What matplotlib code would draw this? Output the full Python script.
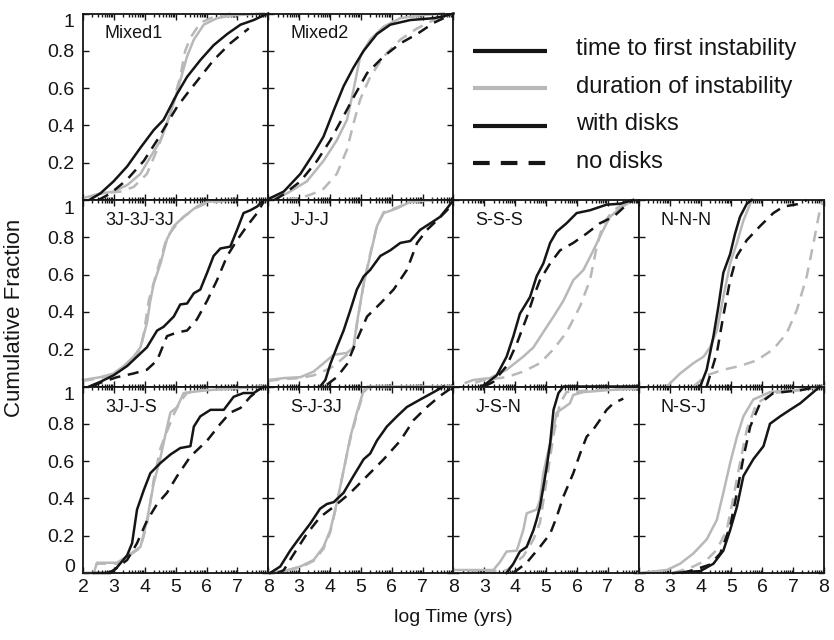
import matplotlib
matplotlib.use("Agg")
import matplotlib.pyplot as plt
from matplotlib.transforms import ScaledTranslation
import numpy as np

plt.rcParams["font.family"] = ["Liberation Sans", "DejaVu Sans"]
plt.rcParams["lines.scale_dashes"] = False

# ---------------------------------------------------------------------------
# Cumulative distributions: (log time values, cumulative fraction)
#   tf  = time to first instability, dur = duration of instability
#   disk / nodisk = with / without gas disks
# ---------------------------------------------------------------------------
mixed1_tf_disk = ([2.2, 2.56, 2.99, 3.43, 3.86, 4.29, 4.61, 4.83, 5.05, 5.37, 5.80, 6.23, 6.67, 7.10, 7.53, 7.85, 8.0],
                  [0.0, 0.035, 0.10, 0.18, 0.28, 0.375, 0.43, 0.50, 0.57, 0.66, 0.75, 0.83, 0.89, 0.94, 0.965, 0.99, 1.0])
mixed1_tf_nodisk = ([2.5, 2.89, 3.43, 3.97, 4.40, 4.72, 5.05, 5.37, 5.80, 6.23, 6.77, 7.37],
                    [0.0, 0.035, 0.11, 0.21, 0.32, 0.41, 0.50, 0.57, 0.66, 0.75, 0.84, 0.92])
mixed1_dur_disk = ([2.0, 2.56, 2.99, 3.43, 3.86, 4.18, 4.51, 4.72, 4.94, 5.15, 5.37, 5.59, 5.91, 6.34, 6.88, 7.85],
                   [0.01, 0.035, 0.045, 0.08, 0.14, 0.23, 0.32, 0.41, 0.52, 0.64, 0.77, 0.86, 0.94, 0.975, 0.99, 1.0])
mixed1_dur_nodisk = ([2.3, 2.56, 3.21, 3.64, 4.07, 4.40, 4.72, 4.94, 5.15, 5.31, 5.48, 5.80, 6.34, 6.88],
                     [0.02, 0.035, 0.045, 0.07, 0.14, 0.27, 0.41, 0.54, 0.66, 0.80, 0.87, 0.95, 0.99, 1.0])

mixed2_tf_disk = ([2.06, 2.50, 3.04, 3.47, 3.79, 4.12, 4.44, 4.76, 5.09, 5.52, 5.95, 6.60, 7.36, 7.68, 8.0],
                  [0.01, 0.045, 0.14, 0.25, 0.34, 0.48, 0.61, 0.71, 0.80, 0.89, 0.94, 0.965, 0.975, 0.985, 1.0])
mixed2_tf_nodisk = ([2.2, 2.50, 3.04, 3.58, 4.01, 4.44, 4.76, 5.20, 5.74, 6.28, 6.82, 7.36, 7.68],
                    [0.0, 0.03, 0.10, 0.21, 0.32, 0.45, 0.55, 0.68, 0.77, 0.84, 0.89, 0.95, 0.975])
mixed2_dur_disk = ([2.06, 2.60, 3.25, 3.79, 4.22, 4.55, 4.76, 4.98, 5.30, 5.74, 6.28, 6.92, 7.68],
                   [0.005, 0.035, 0.10, 0.21, 0.32, 0.43, 0.59, 0.77, 0.86, 0.93, 0.975, 0.99, 1.0])
mixed2_dur_nodisk = ([2.6, 3.04, 3.47, 3.79, 4.22, 4.55, 4.76, 4.98, 5.30, 5.74, 6.28, 6.82, 7.36, 8.0],
                     [0.0, 0.01, 0.035, 0.06, 0.14, 0.27, 0.41, 0.54, 0.66, 0.77, 0.86, 0.92, 0.965, 1.0])

jjj3_tf_disk = ([2.2, 2.56, 2.99, 3.43, 3.75, 4.07, 4.40, 4.61, 4.94, 5.15, 5.37, 5.59, 5.80, 6.02, 6.23, 6.45, 6.77, 6.99, 7.20, 7.42, 7.64, 7.85],
                [0.0, 0.025, 0.06, 0.11, 0.16, 0.21, 0.30, 0.32, 0.375, 0.44, 0.445, 0.50, 0.52, 0.61, 0.70, 0.74, 0.75, 0.84, 0.93, 0.945, 0.965, 1.0])
jjj3_tf_nodisk = ([2.3, 2.56, 3.10, 3.64, 4.07, 4.40, 4.72, 5.05, 5.37, 5.69, 6.02, 6.34, 6.67, 6.99, 7.31, 7.64, 7.85],
                  [0.0, 0.02, 0.05, 0.07, 0.09, 0.14, 0.27, 0.29, 0.30, 0.36, 0.46, 0.57, 0.70, 0.785, 0.86, 0.93, 0.99])
jjj3_dur_disk = ([2.0, 2.56, 2.99, 3.32, 3.64, 3.86, 4.07, 4.18, 4.29, 4.51, 4.72, 4.94, 5.26, 5.69, 6.02, 6.88],
                 [0.035, 0.05, 0.07, 0.11, 0.16, 0.21, 0.34, 0.46, 0.55, 0.66, 0.79, 0.86, 0.91, 0.965, 0.99, 1.0])
jjj3_dur_nodisk = ([2.0, 2.56, 2.99, 3.32, 3.64, 3.86, 3.97, 4.13, 4.40, 4.72, 4.94, 5.26, 5.69, 6.02, 6.88],
                   [0.03, 0.045, 0.065, 0.10, 0.15, 0.20, 0.285, 0.46, 0.62, 0.80, 0.85, 0.91, 0.96, 0.985, 1.0])

jjj_tf_disk = ([3.68, 3.85, 4.01, 4.22, 4.44, 4.66, 4.87, 5.09, 5.30, 5.63, 5.95, 6.28, 6.60, 6.92, 7.25, 7.57, 7.79, 8.0],
               [0.0, 0.035, 0.12, 0.21, 0.30, 0.41, 0.52, 0.59, 0.625, 0.70, 0.73, 0.77, 0.78, 0.84, 0.875, 0.91, 0.955, 1.0])
jjj_tf_nodisk = ([3.90, 4.22, 4.55, 4.87, 5.20, 5.63, 6.06, 6.49, 6.82, 7.14, 7.46, 7.79, 8.0],
                 [0.01, 0.05, 0.12, 0.25, 0.375, 0.445, 0.52, 0.625, 0.77, 0.84, 0.89, 0.945, 0.99])
jjj_dur_disk = ([2.0, 2.50, 3.04, 3.47, 3.90, 4.12, 4.55, 4.76, 4.87, 5.09, 5.30, 5.52, 5.74, 6.17, 6.60, 7.36],
                [0.035, 0.045, 0.05, 0.08, 0.14, 0.17, 0.18, 0.21, 0.34, 0.55, 0.70, 0.86, 0.93, 0.955, 0.99, 1.0])
jjj_dur_nodisk = ([2.0, 2.50, 3.04, 3.47, 3.90, 4.12, 4.55, 4.76, 4.87, 5.09, 5.30, 5.52, 5.74, 6.17, 6.60, 7.36],
                  [0.03, 0.04, 0.045, 0.06, 0.09, 0.11, 0.17, 0.20, 0.33, 0.55, 0.71, 0.86, 0.935, 0.96, 0.99, 1.0])

sss_tf_disk = ([2.9, 3.07, 3.40, 3.72, 3.94, 4.15, 4.48, 4.69, 4.91, 5.13, 5.34, 5.66, 5.99, 6.42, 6.96, 7.39, 7.82],
               [0.0, 0.017, 0.06, 0.16, 0.27, 0.39, 0.48, 0.59, 0.66, 0.77, 0.83, 0.875, 0.93, 0.945, 0.975, 0.98, 1.0])
sss_tf_nodisk = ([3.0, 3.29, 3.72, 4.05, 4.37, 4.59, 4.80, 5.13, 5.45, 5.88, 6.31, 6.74, 7.18, 7.61, 7.82],
                 [0.0, 0.025, 0.11, 0.23, 0.37, 0.48, 0.57, 0.66, 0.73, 0.77, 0.82, 0.875, 0.91, 0.975, 1.0])
sss_dur_disk = ([2.4, 2.64, 3.18, 3.72, 4.26, 4.59, 5.02, 5.24, 5.56, 5.88, 6.21, 6.53, 6.85, 7.07, 7.39, 7.82],
                [0.02, 0.035, 0.045, 0.09, 0.16, 0.21, 0.32, 0.375, 0.46, 0.57, 0.625, 0.73, 0.84, 0.91, 0.955, 1.0])
sss_dur_nodisk = ([2.7, 2.97, 3.72, 4.26, 4.80, 5.24, 5.66, 6.10, 6.42, 6.64, 6.85, 7.18, 7.61, 7.82],
                  [0.02, 0.035, 0.05, 0.08, 0.125, 0.20, 0.29, 0.43, 0.57, 0.75, 0.875, 0.945, 0.99, 1.0])

nnn_tf_disk = ([3.99, 4.20, 4.42, 4.58, 4.74, 4.96, 5.12, 5.28, 5.50, 5.66],
               [0.0, 0.09, 0.27, 0.43, 0.61, 0.71, 0.82, 0.91, 0.98, 1.0])
nnn_tf_nodisk = ([4.20, 4.53, 4.74, 4.96, 5.18, 5.50, 5.93, 6.36, 6.69, 7.23, 7.44],
                 [0.0, 0.18, 0.38, 0.57, 0.70, 0.785, 0.86, 0.93, 0.965, 0.98, 1.0])
nnn_dur_disk = ([2.91, 3.34, 3.77, 4.10, 4.31, 4.53, 4.74, 4.96, 5.18, 5.39, 5.66],
                [0.0, 0.07, 0.125, 0.16, 0.21, 0.30, 0.48, 0.66, 0.77, 0.89, 1.0])
nnn_dur_nodisk = ([3.77, 4.20, 4.74, 5.28, 5.82, 6.36, 6.79, 7.12, 7.44, 7.66, 7.87, 7.98],
                  [0.0, 0.06, 0.09, 0.11, 0.14, 0.20, 0.285, 0.41, 0.59, 0.77, 0.95, 1.0])

jjs3_tf_disk = ([2.35, 2.89, 3.10, 3.43, 3.59, 3.75, 3.97, 4.18, 4.51, 4.83, 5.15, 5.48, 5.59, 5.80, 6.13, 6.56, 6.88, 7.20, 7.53, 7.85],
                [0.0, 0.0, 0.03, 0.095, 0.16, 0.34, 0.445, 0.535, 0.59, 0.635, 0.67, 0.68, 0.785, 0.84, 0.875, 0.875, 0.945, 0.965, 0.965, 1.0])
jjs3_tf_nodisk = ([2.8, 3.0, 3.43, 3.75, 4.07, 4.40, 4.72, 5.05, 5.48, 6.02, 6.45, 6.77, 7.10, 7.42, 7.75],
                  [0.0, 0.015, 0.07, 0.16, 0.28, 0.37, 0.43, 0.52, 0.625, 0.71, 0.80, 0.86, 0.885, 0.945, 0.99])
jjs3_dur_disk = ([2.0, 2.35, 2.45, 3.10, 3.43, 3.64, 3.86, 4.07, 4.29, 4.51, 4.72, 4.83, 5.05, 5.26, 5.48, 6.02, 6.88, 7.85],
                 [0.0, 0.0, 0.055, 0.055, 0.09, 0.115, 0.14, 0.28, 0.48, 0.62, 0.78, 0.86, 0.89, 0.965, 0.97, 0.98, 0.99, 1.0])
jjs3_dur_nodisk = ([2.0, 2.35, 2.45, 3.10, 3.43, 3.64, 3.86, 4.07, 4.29, 4.51, 4.72, 4.94, 5.15, 5.37, 5.80, 6.88, 7.85],
                   [0.0, 0.0, 0.05, 0.05, 0.085, 0.11, 0.135, 0.26, 0.50, 0.67, 0.76, 0.85, 0.92, 0.965, 0.98, 0.99, 1.0])

sjj3_tf_disk = ([2.06, 2.39, 2.71, 3.04, 3.36, 3.68, 3.90, 4.12, 4.44, 4.76, 5.09, 5.30, 5.52, 5.84, 6.17, 6.49, 6.92, 7.36, 7.68],
                [0.0, 0.035, 0.12, 0.195, 0.265, 0.345, 0.37, 0.38, 0.43, 0.52, 0.61, 0.64, 0.71, 0.785, 0.84, 0.89, 0.93, 0.97, 1.0])
sjj3_tf_nodisk = ([2.3, 2.50, 2.82, 3.25, 3.68, 4.12, 4.66, 5.20, 5.74, 6.28, 6.71, 7.14, 7.57, 8.0],
                  [0.0, 0.015, 0.10, 0.21, 0.30, 0.355, 0.43, 0.52, 0.61, 0.71, 0.82, 0.89, 0.95, 1.0])
sjj3_dur_disk = ([2.0, 2.50, 3.04, 3.47, 3.79, 4.01, 4.22, 4.44, 4.66, 4.87, 5.09, 5.20, 8.0],
                 [0.0, 0.01, 0.035, 0.07, 0.14, 0.23, 0.375, 0.55, 0.73, 0.86, 0.98, 1.0, 1.0])
sjj3_dur_nodisk = ([2.0, 2.50, 3.04, 3.47, 3.79, 4.01, 4.22, 4.44, 4.66, 4.87, 5.09, 5.25, 8.0],
                   [0.0, 0.01, 0.03, 0.065, 0.13, 0.22, 0.37, 0.55, 0.72, 0.85, 0.97, 0.995, 1.0])

jsn_tf_disk = ([3.72, 3.94, 4.15, 4.37, 4.59, 4.69, 4.80, 4.91, 5.02, 5.13, 5.24, 5.40, 5.56, 8.0],
               [0.0, 0.05, 0.115, 0.14, 0.23, 0.285, 0.355, 0.46, 0.57, 0.695, 0.875, 0.965, 1.0, 1.0])
jsn_tf_nodisk = ([3.94, 4.37, 4.80, 5.13, 5.34, 5.56, 5.88, 6.10, 6.31, 6.53, 6.74, 6.96, 7.18, 7.50],
                 [0.0, 0.055, 0.14, 0.21, 0.30, 0.41, 0.535, 0.64, 0.73, 0.77, 0.82, 0.875, 0.91, 0.935])
jsn_dur_disk = ([2.0, 3.29, 3.51, 3.72, 4.05, 4.26, 4.37, 4.69, 4.80, 4.91, 5.02, 5.24, 5.34, 5.56, 5.77, 5.88, 6.21, 6.96, 7.93],
                [0.016, 0.016, 0.06, 0.115, 0.12, 0.23, 0.32, 0.34, 0.39, 0.535, 0.62, 0.77, 0.86, 0.885, 0.91, 0.955, 0.97, 0.98, 0.99])
jsn_dur_nodisk = ([2.43, 3.72, 4.26, 4.59, 4.80, 5.02, 5.24, 5.45, 5.66, 6.42, 7.93],
                  [0.0, 0.015, 0.09, 0.18, 0.27, 0.50, 0.74, 0.91, 0.97, 0.98, 0.99])

nsj_tf_disk = ([3.12, 3.99, 4.42, 4.74, 4.96, 5.18, 5.39, 5.71, 6.04, 6.25, 6.58, 6.90, 7.23, 7.55, 7.87],
               [0.0, 0.01, 0.05, 0.12, 0.23, 0.355, 0.52, 0.61, 0.68, 0.80, 0.84, 0.875, 0.91, 0.955, 1.0])
nsj_tf_nodisk = ([3.4, 3.77, 4.31, 4.64, 4.96, 5.18, 5.39, 5.61, 5.93, 6.36, 7.23, 7.87],
                 [0.0, 0.016, 0.045, 0.105, 0.25, 0.43, 0.62, 0.785, 0.91, 0.965, 0.98, 1.0])
nsj_dur_disk = ([2.0, 2.91, 3.34, 3.77, 4.20, 4.53, 4.74, 4.96, 5.18, 5.39, 5.71, 6.25, 7.01, 7.98],
                [0.0, 0.016, 0.05, 0.105, 0.18, 0.285, 0.43, 0.59, 0.73, 0.84, 0.93, 0.97, 0.98, 1.0])
nsj_dur_nodisk = ([3.12, 3.77, 4.20, 4.53, 4.85, 5.07, 5.28, 5.50, 5.82, 6.36, 7.23, 7.87],
                  [0.0, 0.035, 0.07, 0.125, 0.23, 0.41, 0.59, 0.77, 0.91, 0.965, 0.98, 1.0])

panel_names = ["Mixed1", "Mixed2", "3J-3J-3J", "J-J-J", "S-S-S", "N-N-N",
               "3J-J-S", "S-J-3J", "J-S-N", "N-S-J"]
panel_cells = [(0, 0), (0, 1), (1, 0), (1, 1), (1, 2), (1, 3),
               (2, 0), (2, 1), (2, 2), (2, 3)]
panel_curves = [
    (mixed1_tf_disk, mixed1_tf_nodisk, mixed1_dur_disk, mixed1_dur_nodisk),
    (mixed2_tf_disk, mixed2_tf_nodisk, mixed2_dur_disk, mixed2_dur_nodisk),
    (jjj3_tf_disk, jjj3_tf_nodisk, jjj3_dur_disk, jjj3_dur_nodisk),
    (jjj_tf_disk, jjj_tf_nodisk, jjj_dur_disk, jjj_dur_nodisk),
    (sss_tf_disk, sss_tf_nodisk, sss_dur_disk, sss_dur_nodisk),
    (nnn_tf_disk, nnn_tf_nodisk, nnn_dur_disk, nnn_dur_nodisk),
    (jjs3_tf_disk, jjs3_tf_nodisk, jjs3_dur_disk, jjs3_dur_nodisk),
    (sjj3_tf_disk, sjj3_tf_nodisk, sjj3_dur_disk, sjj3_dur_nodisk),
    (jsn_tf_disk, jsn_tf_nodisk, jsn_dur_disk, jsn_dur_nodisk),
    (nsj_tf_disk, nsj_tf_nodisk, nsj_dur_disk, nsj_dur_nodisk),
]

x_major = [2, 3, 4, 5, 6, 7, 8]
y_major = [0, 0.2, 0.4, 0.6, 0.8, 1.0]
y_labels = ["0", "0.2", "0.4", "0.6", "0.8", "1"]
legend_labels = ["time to first instability", "duration of instability",
                 "with disks", "no disks"]

BLACK = "#151515"
GRAY = "#b8b8b8"
DASH = (0, (8, 5.5))
LW = 1.8

# ---------------------------------------------------------------------------
W_PX, H_PX = 834, 640
fig = plt.figure(figsize=(W_PX / 100, H_PX / 100), dpi=100)

left, right, top, bottom = 83.0, 824.0, 13.5, 573.0
cw = (right - left) / 4
rh = (bottom - top) / 3

# log-spaced minor ticks inside every decade of the log-time axis
minor_x = [d + np.log10(k) for d in range(2, 8) for k in range(2, 10)]


def shift_px(dy):
    return ScaledTranslation(0, dy / 100, fig.dpi_scale_trans)


for name, (r, c), curves in zip(panel_names, panel_cells, panel_curves):
    rect = [(left + c * cw) / W_PX, 1 - (top + (r + 1) * rh) / H_PX,
            cw / W_PX, rh / H_PX]
    ax = fig.add_axes(rect)
    tf_d, tf_n, du_d, du_n = curves
    ax.plot(*du_n, color=GRAY, lw=LW, linestyle=DASH, clip_on=False, zorder=2)
    ax.plot(*du_d, color=GRAY, lw=LW, clip_on=False, zorder=2)
    ax.plot(*tf_n, color=BLACK, lw=LW, linestyle=DASH, clip_on=False, zorder=3)
    ax.plot(*tf_d, color=BLACK, lw=LW, clip_on=False, zorder=3)

    ax.set_xlim(2, 8)
    ax.set_ylim(0, 1)
    ax.set_xticks(x_major)
    ax.set_xticks(minor_x, minor=True)
    ax.set_yticks(y_major)
    ax.tick_params(which="both", direction="in", top=True, right=True,
                   width=1.0, color=BLACK, labelsize=14, labelcolor=BLACK)
    ax.tick_params(which="major", length=4.5)
    ax.tick_params(which="minor", length=2.0)
    ax.tick_params(axis="x", pad=4)
    ax.tick_params(axis="y", pad=6)
    for sp in ax.spines.values():
        sp.set_linewidth(1.3)
        sp.set_color(BLACK)

    if r == 2:
        ax.set_xticklabels([str(v) if (c == 0 or v > 2) else "" for v in x_major])
    else:
        ax.set_xticklabels([])
    if c == 0:
        labs = list(y_labels)
        if r < 2:
            labs[0] = ""
        ax.set_yticklabels(labs)
        ticks = ax.yaxis.get_major_ticks()
        ticks[-1].label1.set_transform(ticks[-1].label1.get_transform() + shift_px(-7))
        ticks[0].label1.set_transform(ticks[0].label1.get_transform() + shift_px(8))
    else:
        ax.set_yticklabels([])

    ax.annotate(name, xy=(0, 1), xycoords="axes fraction",
                xytext=(22, -25), textcoords="offset pixels",
                fontsize=13, color=BLACK, ha="left", va="baseline")

# Legend drawn in figure pixel space in the empty upper-right block
leg = fig.add_axes([0, 0, 1, 1], zorder=-1)
leg.set_xlim(0, W_PX)
leg.set_ylim(H_PX, 0)
leg.axis("off")
leg_rows = [51, 88, 126, 163]
leg_styles = [dict(color=BLACK, linestyle="-"),
              dict(color=GRAY, linestyle="-"),
              dict(color=BLACK, linestyle="-"),
              dict(color=BLACK, linestyle=(0, (12, 8)))]
for yy, lab, st in zip(leg_rows, legend_labels, leg_styles):
    leg.plot([473, 547], [yy, yy], lw=3.0, solid_capstyle="butt",
             dash_capstyle="butt", **st)
    leg.text(576, yy + 4.5, lab, fontsize=17, color=BLACK,
             ha="left", va="baseline")

fig.text(15 / W_PX, 1 - 318 / H_PX, "Cumulative Fraction", rotation=90,
         ha="center", va="center", fontsize=16, color=BLACK)
fig.text(453 / W_PX, 1 - 617 / H_PX, "log Time (yrs)",
         ha="center", va="center", fontsize=14, color=BLACK)

fig.savefig("out.png", dpi=100)
